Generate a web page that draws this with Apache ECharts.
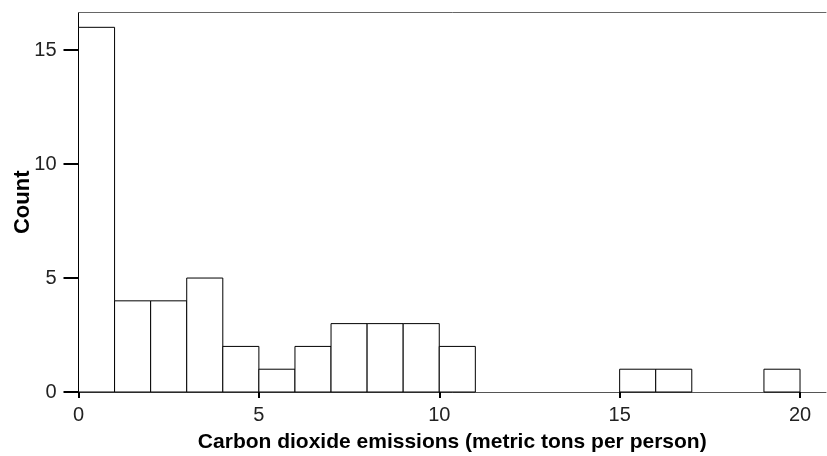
<!DOCTYPE html>
<html>
<head>
<meta charset="utf-8">
<script src="https://cdn.jsdelivr.net/npm/echarts@6/dist/echarts.min.js"></script>
<style>html,body{margin:0;padding:0;background:#fff;}#c{width:827px;height:456px;}</style>
</head>
<body>
<div id="c"></div>
<script>
// Histogram bins (lower edges), width 1, and counts
const binStarts = [0, 1, 2, 3, 4, 5, 6, 7, 8, 9, 10, 15, 16, 19];
const counts    = [16, 4, 4, 5, 2, 1, 2, 3, 3, 3, 2, 1, 1, 1];
const binWidth = 1;
const xTicks = [0, 5, 10, 15, 20];
const yTicks = [0, 5, 10, 15];
const xTitle = 'Carbon dioxide emissions (metric tons per person)';
const yTitle = 'Count';

const data = binStarts.map((s, i) => [s, s + binWidth, counts[i]]);
const labelFont = "'Liberation Sans', Arial, sans-serif";
const titleFont = "'Liberation Sans', Arial, sans-serif";

const chart = echarts.init(document.getElementById('c'), null, {renderer: 'canvas'});
chart.setOption({
  animation: false,
  backgroundColor: '#fff',
  grid: {left: 78.5, right: 1, top: 12.5, bottom: 64, containLabel: false, outerBoundsMode: 'none'},
  xAxis: [{
    type: 'value', min: 0, max: 20.72, position: 'bottom',
    splitLine: {show: false},
    axisLine: {show: true, lineStyle: {color: '#555', width: 1}},
    axisTick: {show: true, customValues: xTicks, length: 6, lineStyle: {color: '#000', width: 2}},
    axisLabel: {customValues: xTicks, margin: 13, fontFamily: labelFont, fontSize: 20, lineHeight: 20, color: '#222'},
    name: xTitle, nameLocation: 'middle', nameGap: 40, nameMoveOverlap: false,
    nameTextStyle: {fontFamily: titleFont, fontWeight: 'bold', fontSize: 21, color: '#000'}
  }, {
    type: 'value', min: 0, max: 20.72, position: 'top',
    splitLine: {show: false},
    axisLine: {show: true, onZero: false, lineStyle: {color: '#666', width: 1}},
    axisTick: {show: false}, axisLabel: {show: false}
  }],
  yAxis: {
    type: 'value', min: 0, max: 16.65,
    splitLine: {show: false},
    axisLine: {show: true, lineStyle: {color: '#000', width: 1}},
    axisTick: {show: true, customValues: yTicks, length: 15, lineStyle: {color: '#000', width: 2}},
    axisLabel: {customValues: yTicks, margin: 22, fontFamily: labelFont, fontSize: 20, color: '#222'},
    name: yTitle, nameLocation: 'middle', nameGap: 45, nameMoveOverlap: false,
    nameTextStyle: {fontFamily: titleFont, fontWeight: 'bold', fontSize: 22, color: '#000'}
  },
  series: [{
    type: 'custom',
    xAxisIndex: 0,
    data: data,
    renderItem: function (params, api) {
      const p0 = api.coord([api.value(0), api.value(2)]);
      const p1 = api.coord([api.value(1), 0]);
      return {
        type: 'rect',
        shape: {x: p0[0], y: p0[1], width: p1[0] - p0[0], height: p1[1] - p0[1]},
        style: {fill: '#fff', stroke: '#000', lineWidth: 1}
      };
    },
    encode: {x: [0, 1], y: 2}
  }]
});
</script>
</body>
</html>
